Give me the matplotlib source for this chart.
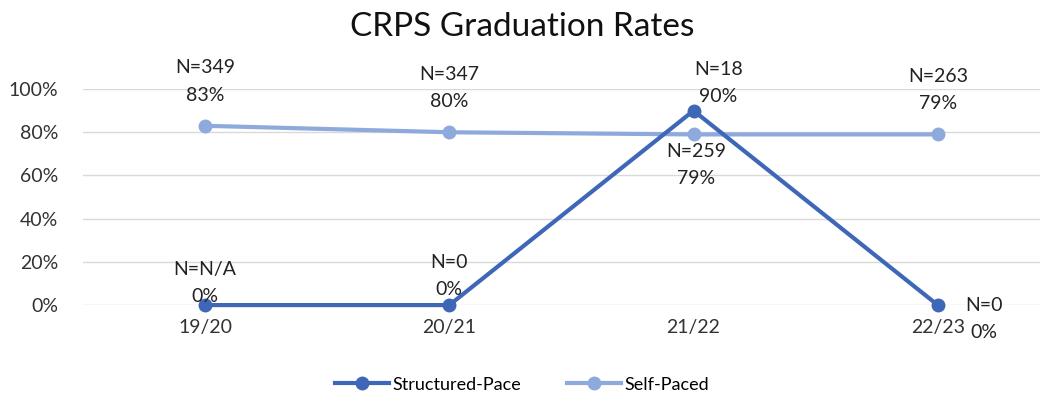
import matplotlib.pyplot as plt
from matplotlib.ticker import PercentFormatter

plt.rcParams.update({"font.family": ["Lato", "DejaVu Sans"], "font.size": 14})

# ── Data ──────────────────────────────────────────────────────────────────────
years       = ["19/20", "20/21", "21/22", "22/23"]
structured  = [0.00, 0.00, 0.90, 0.00]
self_paced  = [0.83, 0.80, 0.79, 0.79]
n_struct    = ["N/A", "0", "18", "0"]
n_self      = ["349", "347", "259", "263"]

C_STRUCT = "#3F67B8"
C_SELF   = "#8EA9DB"

fig = plt.figure(figsize=(10.44, 4.03), dpi=100)
ax = fig.add_axes([0.0795, 0.243, 0.917, 0.536])

x = list(range(len(years)))
ax.plot(x, structured, color=C_STRUCT, lw=3, marker="o", ms=9,
        label="Structured-Pace", clip_on=False, zorder=4)
ax.plot(x, self_paced, color=C_SELF, lw=3, marker="o", ms=9,
        label="Self-Paced", clip_on=False, zorder=3)

# data labels (offsets in points, like Excel label positions)
struct_off = [(0, 0, "center", "bottom"), (0, 5, "center", "bottom"),
              (18, 4, "center", "bottom"), (33, -10, "center", "center")]
self_off   = [(0, 16, "center", "bottom"), (0, 16, "center", "bottom"),
              (2, -6, "center", "top"), (0, 16, "center", "bottom")]

for i in x:
    dx, dy, ha, va = struct_off[i]
    ax.annotate(f"N={n_struct[i]}\n{structured[i]:.0%}", (i, structured[i]),
                xytext=(dx, dy), textcoords="offset points",
                ha=ha, va=va, linespacing=1.75, color="#222", zorder=6,
                annotation_clip=False)
    dx, dy, ha, va = self_off[i]
    ax.annotate(f"N={n_self[i]}\n{self_paced[i]:.0%}", (i, self_paced[i]),
                xytext=(dx, dy), textcoords="offset points",
                ha=ha, va=va, linespacing=1.75, color="#222", zorder=6,
                annotation_clip=False)

ax.set_xlim(-0.5, 3.42)
ax.set_ylim(0, 1.0)
ax.set_yticks([0, 0.2, 0.4, 0.6, 0.8, 1.0])
ax.yaxis.set_major_formatter(PercentFormatter(1.0, decimals=0))
ax.set_xticks(x)
ax.set_xticklabels(years)
ax.tick_params(length=0, labelsize=14, colors="#333")
ax.tick_params(axis="x", pad=10)
ax.tick_params(axis="y", pad=18)
ax.grid(axis="y", color="#D9D9D9", lw=1)
ax.set_axisbelow(True)
for s in ax.spines.values():
    s.set_visible(False)

fig.suptitle("CRPS Graduation Rates", fontsize=24, y=0.97, color="#111")
fig.legend(loc="lower center", ncol=2, frameon=False, fontsize=13,
           bbox_to_anchor=(0.5, -0.015), handlelength=3, handletextpad=0.2,
           columnspacing=2.5)

fig.savefig("out.png", dpi=100)
